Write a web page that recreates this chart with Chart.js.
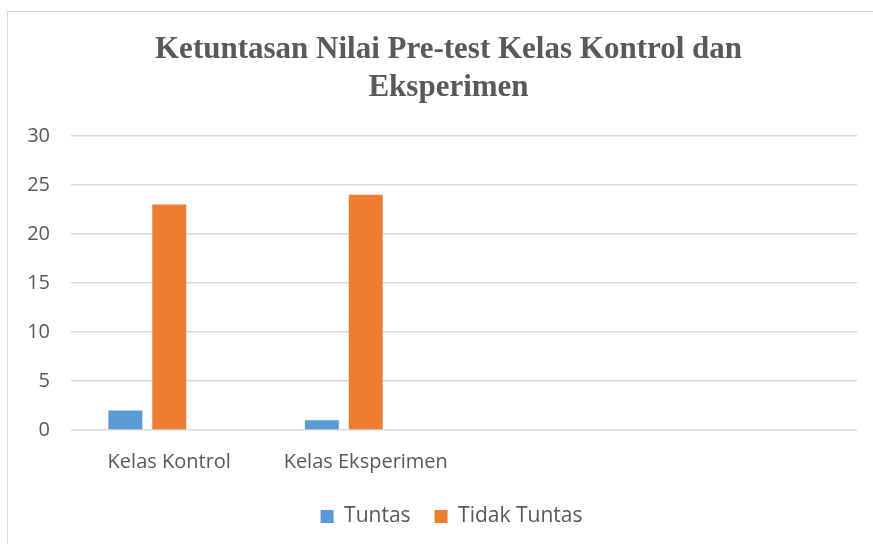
<!DOCTYPE html>
<html>
<head>
<meta charset="utf-8">
<script src="https://cdn.jsdelivr.net/npm/chart.js@4.4.0/dist/chart.umd.min.js"></script>
<style>
html,body{margin:0;padding:0;background:#fff;overflow:hidden;}
#wrap{position:relative;width:873px;height:544px;}
#frame{position:absolute;left:7px;top:11px;width:900px;height:600px;border:1px solid #d9d9d9;box-sizing:border-box;}
canvas{position:absolute;left:0;top:0;}
</style>
</head>
<body>
<div id="wrap">
<div id="frame"></div>
<canvas id="c" width="873" height="544"></canvas>
</div>
<script>
const titleLines = ['Ketuntasan Nilai Pre-test Kelas Kontrol dan', 'Eksperimen'];
const categories = ['Kelas Kontrol', 'Kelas Eksperimen', '', ''];
const seriesNames = ['Tuntas', 'Tidak Tuntas', ''];
const tuntas = [2, 1, null, null];
const tidakTuntas = [23, 24, null, null];
const emptySeries = [null, null, null, null];
const yTicks = [0, 5, 10, 15, 20, 25, 30];

const grey = '#595959';
const sans = '"Open Sans", sans-serif';

// shift the title and legend boxes so they are centred like the original (which is centred within the frame, not the canvas)
const shiftBoxes = {
  id: 'shiftBoxes',
  afterLayout(chart) {
    if (chart.titleBlock) chart.titleBlock.left = 40;
    if (chart.legend) chart.legend.left = 46;
  }
};

new Chart(document.getElementById('c'), {
  type: 'bar',
  data: {
    labels: categories,
    datasets: [
      {label: seriesNames[0], data: tuntas, backgroundColor: '#5B9BD5'},
      {label: seriesNames[1], data: tidakTuntas, backgroundColor: '#ED7D31'},
      {label: seriesNames[2], data: emptySeries, backgroundColor: '#A5A5A5'}
    ]
  },
  plugins: [shiftBoxes],
  options: {
    responsive: false,
    animation: false,
    devicePixelRatio: 1,
    layout: {padding: {left: 0, right: 16, top: 0, bottom: 7}},
    datasets: {bar: {barPercentage: 0.773, categoryPercentage: 0.67}},
    plugins: {
      tooltip: {enabled: false},
      title: {
        display: true,
        text: titleLines,
        color: grey,
        font: {family: '"Liberation Serif", serif', size: 31, weight: 'bold', lineHeight: 1.226},
        padding: {top: 31, bottom: 29}
      },
      legend: {
        position: 'bottom',
        labels: {
          color: grey,
          font: {family: sans, size: 21},
          boxWidth: 13, boxHeight: 13, padding: 24,
          filter: (item) => item.text !== ''
        }
      }
    },
    scales: {
      x: {
        grid: {display: false, drawTicks: false},
        border: {display: false},
        ticks: {color: grey, font: {family: sans, size: 20}, padding: 20, maxRotation: 0, autoSkip: false},
        afterFit: (s) => { s.height = 52; }
      },
      y: {
        min: 0, max: 30,
        grid: {color: '#d9d9d9', lineWidth: 1.5, drawTicks: false},
        border: {display: false},
        afterBuildTicks: (s) => { s.ticks = yTicks.map(v => ({value: v})); },
        ticks: {color: grey, font: {family: sans, size: 20}, padding: 21},
        afterFit: (s) => { s.width = 71; }
      }
    }
  }
});
</script>
</body>
</html>
